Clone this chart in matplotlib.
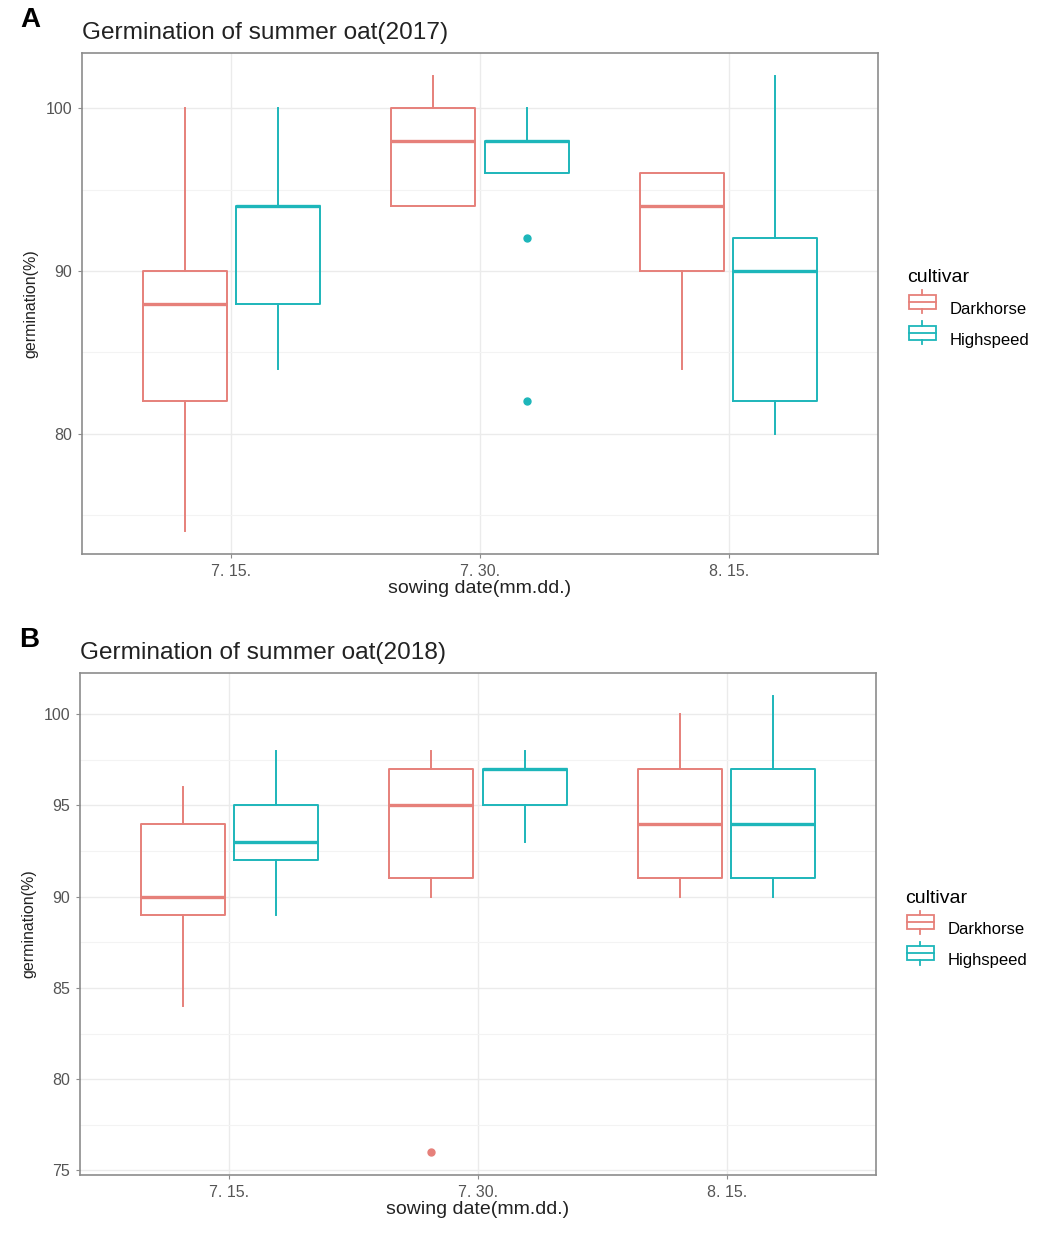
import numpy as np
import matplotlib
matplotlib.use("Agg")
import matplotlib.pyplot as plt
from matplotlib.legend_handler import HandlerBase
from matplotlib.patches import Rectangle
from matplotlib.lines import Line2D

plt.rcParams["font.family"] = ["Liberation Sans", "DejaVu Sans"]

dates = ["7. 15.", "7. 30.", "8. 15."]
cultivars = ["Darkhorse", "Highspeed"]
colors = ["#E6807A", "#1DB6BA"]

# 2017: per cultivar, one value per date
dh17_low = [74, 94, 84]
dh17_q1 = [82, 94, 90]
dh17_med = [88, 98, 94]
dh17_q3 = [90, 100, 96]
dh17_high = [100, 102, 96]
dh17_out = [[], [], []]

hs17_low = [84, 96, 80]
hs17_q1 = [88, 96, 82]
hs17_med = [94, 98, 90]
hs17_q3 = [94, 98, 92]
hs17_high = [100, 100, 102]
hs17_out = [[], [92, 82], []]

# 2018
dh18_low = [84, 90, 90]
dh18_q1 = [89, 91, 91]
dh18_med = [90, 95, 94]
dh18_q3 = [94, 97, 97]
dh18_high = [96, 98, 100]
dh18_out = [[], [76], []]

hs18_low = [89, 93, 90]
hs18_q1 = [92, 95, 91]
hs18_med = [93, 97, 94]
hs18_q3 = [95, 97, 97]
hs18_high = [98, 98, 101]
hs18_out = [[], [], []]


def make_stats(low, q1, med, q3, high, out):
    return [dict(whislo=low[i], q1=q1[i], med=med[i], q3=q3[i], whishi=high[i],
                 fliers=out[i]) for i in range(len(med))]


class BoxHandler(HandlerBase):
    def create_artists(self, legend, orig, xd, yd, w, h, fs, trans):
        c = orig.get_color()
        bw = w * 0.9
        x0 = xd + (w - bw) / 2
        y0 = yd + h * 0.1
        bh = h * 0.8
        rect = Rectangle((x0, y0), bw, bh, fill=False, edgecolor=c, lw=1.3, transform=trans)
        mid = Line2D([x0, x0 + bw], [y0 + bh / 2] * 2, color=c, lw=1.3, transform=trans)
        top = Line2D([xd + w / 2] * 2, [y0 + bh, y0 + bh + h * 0.25], color=c, lw=1.3, transform=trans)
        bot = Line2D([xd + w / 2] * 2, [y0, y0 - h * 0.25], color=c, lw=1.3, transform=trans)
        return [rect, mid, top, bot]


def draw_panel(ax, stats_list, yticks, yminor, ylim, title, letter):
    pos = np.arange(1, len(dates) + 1)
    offsets = [-0.1875, 0.1875]
    for stats, off, col in zip(stats_list, offsets, colors):
        ax.bxp(stats, positions=pos + off, widths=0.3375, showcaps=False,
               boxprops=dict(color=col, lw=1.4),
               whiskerprops=dict(color=col, lw=1.4),
               medianprops=dict(color=col, lw=2.4),
               flierprops=dict(marker="o", markerfacecolor=col, markeredgecolor=col,
                               markersize=5))
    ax.set_xlim(0.4, 3.6)
    ax.set_ylim(*ylim)
    ax.set_xticks(pos)
    ax.set_xticklabels(dates)
    ax.set_yticks(yticks)
    ax.set_yticks(yminor, minor=True)
    ax.grid(True, which="major", color="#EBEBEB", lw=1.0)
    ax.grid(True, which="minor", axis="y", color="#F3F3F3", lw=0.8)
    ax.set_axisbelow(True)
    for s in ax.spines.values():
        s.set_color("#8C8C8C")
        s.set_linewidth(1.2)
    ax.tick_params(axis="both", which="major", length=3, color="#8C8C8C",
                   labelcolor="#555555", labelsize=11.5, pad=4)
    ax.tick_params(axis="y", which="minor", length=0)
    ax.set_xlabel("sowing date(mm.dd.)", fontsize=14, color="#222222", labelpad=1)
    ax.set_ylabel("germination(%)", fontsize=11.5, color="#222222", labelpad=5)
    ax.set_title(title, loc="left", fontsize=17.6, color="#222222", pad=10)
    ax.text(-0.077, 1.04, letter, transform=ax.transAxes, fontsize=20,
            fontweight="bold", ha="left", va="bottom")
    handles = [Line2D([], [], color=c) for c in colors]
    leg = ax.legend(handles, cultivars, title="cultivar", loc="center left",
                    bbox_to_anchor=(1.018, 0.49), frameon=False, fontsize=12,
                    title_fontsize=14, handler_map={Line2D: BoxHandler()},
                    handlelength=1.8, handleheight=1.25, labelspacing=0.8,
                    handletextpad=0.75)
    leg._legend_box.align = "left"


fig = plt.figure(figsize=(10.44, 12.36), dpi=100)
ax1 = fig.add_axes([82 / 1044, 1 - 554 / 1236, 796 / 1044, 501 / 1236])
ax2 = fig.add_axes([80 / 1044, 1 - 1175 / 1236, 796 / 1044, 502 / 1236])

stats17 = [make_stats(dh17_low, dh17_q1, dh17_med, dh17_q3, dh17_high, dh17_out),
           make_stats(hs17_low, hs17_q1, hs17_med, hs17_q3, hs17_high, hs17_out)]
stats18 = [make_stats(dh18_low, dh18_q1, dh18_med, dh18_q3, dh18_high, dh18_out),
           make_stats(hs18_low, hs18_q1, hs18_med, hs18_q3, hs18_high, hs18_out)]

draw_panel(ax1, stats17, [80, 90, 100], [75, 85, 95], (72.6, 103.4),
           "Germination of summer oat(2017)", "A")
draw_panel(ax2, stats18, [75, 80, 85, 90, 95, 100], [77.5, 82.5, 87.5, 92.5, 97.5],
           (74.75, 102.25), "Germination of summer oat(2018)", "B")

fig.savefig("out.png", dpi=100)
